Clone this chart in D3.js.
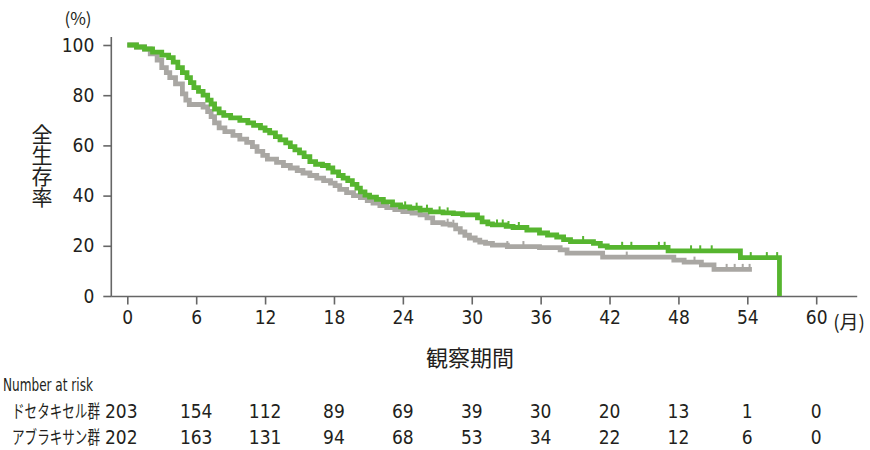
<!DOCTYPE html>
<html><head><meta charset="utf-8">
<script src="https://cdn.jsdelivr.net/npm/d3@7/dist/d3.min.js"></script>
<style>body{margin:0;background:#fff}</style>
</head><body><svg id="c" width="870" height="450"></svg>
<script>
const xTicks=[0,6,12,18,24,30,36,42,48,54,60];
const yTicks=[0,20,40,60,80,100];
const groups=["ドセタキセル群","アブラキサン群"];
const riskTimes=[0,6,12,18,24,30,36,42,48,54,60];
const riskDoce=[203,154,112,89,69,39,30,20,13,1,0];
const riskAbx=[202,163,131,94,68,53,34,22,12,6,0];

// アブラキサン群 (green)
const abxTime=[0,0.8,1.5,2.2,3.0,3.6,4.0,4.4,4.8,5.2,5.5,5.8,6.2,6.6,7.0,7.3,7.6,8.0,8.4,9.0,9.8,10.5,11.0,11.6,12.0,12.4,12.9,13.3,13.8,14.2,14.6,15.0,15.4,15.9,16.4,17.0,17.5,17.9,18.4,18.8,19.2,19.6,20.0,20.3,20.7,21.1,21.7,22.3,23.1,23.8,24.6,25.5,26.4,27.5,28.4,29.2,30.5,30.9,31.4,31.8,33.0,33.6,34.8,35.9,36.6,37.4,38.0,38.6,40.6,41.2,41.8,47.1,53.4,56.8];
const abxSurv=[100,99.2,98.4,97.2,96.0,95.0,93.2,91,89,87,85,83,81.5,80,78,76.5,74.5,73,72,71,70,69,68,67,66,65,63.5,62.2,61,59.5,58.2,57,55.5,53.5,52.5,52,51,49.4,48,47,46,44.5,43,41.5,40.2,39.4,38.5,37.5,36.3,35.5,35,34.2,33.5,33.1,32.8,32.3,31.1,29.5,28.7,28.3,27.7,27.3,26.3,25.1,24.3,23.5,22.5,21.7,21.0,20.0,19.4,18.0,15.3,0];
const abxCensor=[24.2,25.2,26.1,27.2,27.9,32.2,32.7,33.2,34.1,39.7,43.1,43.9,46.3,46.8,49.1,49.9,50.9,54.3,55.7,56.6];

// ドセタキセル群 (gray)
const doceTime=[0,0.8,1.5,2.0,2.6,3.0,3.4,3.7,4.2,4.8,5.1,5.4,6.6,7.0,7.3,7.6,8.0,8.5,9.2,9.8,10.4,10.9,11.3,11.8,12.2,13.0,13.6,14.2,14.8,15.3,15.9,16.5,17.1,17.7,18.1,18.5,19.1,19.7,20.3,20.9,21.4,22.0,22.6,23.3,24.0,24.8,25.5,26.1,26.6,27.5,28.1,28.6,29.0,29.4,29.8,30.3,30.7,31.2,31.8,33.1,35.9,37.7,38.3,41.4,47.6,48.5,50.0,51.1,54.4];
const doceSurv=[100,99.2,98.4,96.5,94,91,89,87,84.5,80.5,78,76.3,75.3,73.5,71.5,69,67,65.5,64,62.5,61.2,59.5,57.6,56,54.5,53.2,52,51,50,49,48,47,46,45,44,42.5,41.2,40,39.2,38,37,36,35.2,34.4,33.6,33,32.3,31.1,29.2,28.6,28.2,26.8,25.5,24.2,23.1,22.3,21.5,21,20.3,19.7,19.3,18.4,17.1,15.5,14.3,13.5,12.4,10.6,10.6];
const doceCensor=[27.9,28.4,33.1,34.5,43.5,49.4,52.2,52.9,53.6,54.2];

const svg=d3.select("#c");
const x=d3.scaleLinear().domain([0,60]).range([127.3,816.2]);
const y=d3.scaleLinear().domain([0,100]).range([296,45]);
const axisCol="#666";
const txtCol="#231f20";
const numFont="'DejaVu Sans Condensed','Liberation Sans Narrow','Noto Sans CJK JP',sans-serif";
const jpFont="'Noto Sans CJK JP',sans-serif";

// axes lines
svg.append("line").attr("x1",x(0)-16).attr("x2",x(0)-16).attr("y1",y(0)+0.5).attr("y2",y(100)-8)
  .attr("stroke",axisCol).attr("stroke-width",1.6);
svg.append("line").attr("x1",x(0)-16).attr("x2",x(60)+41).attr("y1",y(0)+0.5).attr("y2",y(0)+0.5)
  .attr("stroke",axisCol).attr("stroke-width",1.6);

const gy=svg.append("g").attr("transform",`translate(${x(0)-16},0)`)
  .call(d3.axisLeft(y).tickValues(yTicks).tickSize(8).tickPadding(9));
gy.select(".domain").remove();
gy.selectAll("line").attr("stroke",axisCol).attr("stroke-width",1.6);
gy.selectAll("text").attr("font-family",numFont).attr("font-size",19).attr("fill",txtCol);

const gx=svg.append("g").attr("transform",`translate(0,${y(0)+0.5})`)
  .call(d3.axisBottom(x).tickValues(xTicks).tickSize(8).tickPadding(6));
gx.select(".domain").remove();
gx.selectAll("line").attr("stroke",axisCol).attr("stroke-width",1.6);
gx.selectAll("text").attr("font-family",numFont).attr("font-size",19).attr("fill",txtCol);

svg.append("text").attr("x",x(60)+17).attr("y",y(0)+33).text("(月)")
  .attr("font-family",jpFont).attr("font-size",19).attr("fill",txtCol);
svg.append("text").attr("x",78).attr("y",25).attr("text-anchor","middle").text("(%)")
  .attr("font-family",jpFont).attr("font-size",17).attr("fill",txtCol);

// y title vertical
svg.append("text").attr("x",42).attr("y",124).text("全生存率")
  .attr("writing-mode","vertical-rl").style("text-orientation","upright")
  .attr("font-family",jpFont).attr("font-size",21).attr("fill",txtCol);
svg.append("text").attr("x",470).attr("y",366).attr("text-anchor","middle").text("観察期間")
  .attr("font-family",jpFont).attr("font-size",22).attr("fill",txtCol);

// curves
const line=d3.line().x(d=>x(d[0])).y(d=>y(d[1])).curve(d3.curveStepAfter);
function survAt(times,surv,t){let v=surv[0];for(let i=0;i<times.length;i++){if(times[i]<=t)v=surv[i];}return v;}
function drawSeries(times,surv,cens,col){
  const pts=times.map((t,i)=>[t,surv[i]]);
  svg.append("path").attr("d",line(pts)).attr("fill","none").attr("stroke",col)
    .attr("stroke-width",4.8).attr("stroke-linejoin","miter");
  svg.append("g").selectAll("line").data(cens).join("line")
    .attr("x1",d=>x(d)).attr("x2",d=>x(d))
    .attr("y1",d=>y(survAt(times,surv,d))).attr("y2",d=>y(survAt(times,surv,d))-5.5)
    .attr("stroke",col).attr("stroke-width",2);
}
drawSeries(doceTime,doceSurv,doceCensor,"#a9a7a3");
drawSeries(abxTime,abxSurv,abxCensor,"#56b52f");

// squeeze a text horizontally to a target width
function squeeze(sel,x0,y0,w){
  const n=sel.node().getComputedTextLength();
  sel.attr("transform",`translate(${x0},${y0}) scale(${Math.min(1,w/n)},1)`);
}
// risk table
const nar=svg.append("text").attr("x",0).attr("y",0).text("Number at risk")
  .attr("font-family",numFont).attr("font-size",18).attr("fill",txtCol);
squeeze(nar,3,391,90);
[[riskDoce,418],[riskAbx,444]].forEach(([vals,yy],gi)=>{
  const lb=svg.append("text").attr("x",0).attr("y",0).text(groups[gi])
    .attr("font-family",jpFont).attr("font-size",18).attr("fill",txtCol);
  squeeze(lb,12,yy,88);
  svg.append("g").selectAll("text").data(vals).join("text")
    .attr("x",(d,i)=>i===0?x(riskTimes[i])-6:x(riskTimes[i])).attr("y",yy)
    .attr("text-anchor","middle").text(d=>d)
    .attr("font-family",numFont).attr("font-size",19).attr("fill",txtCol);
});
</script></body></html>
